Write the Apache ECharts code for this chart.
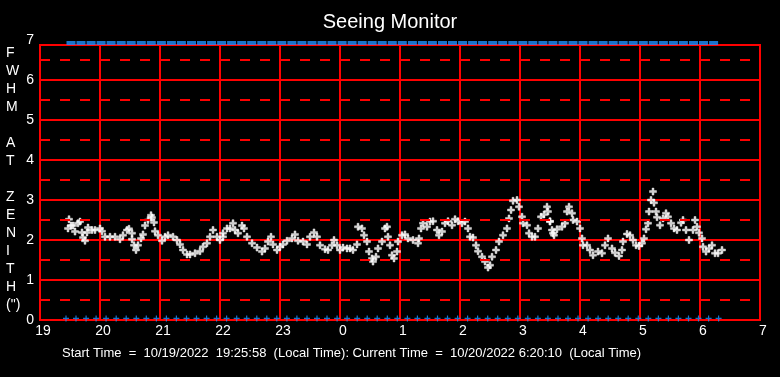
<!DOCTYPE html>
<html>
<head>
<meta charset="utf-8">
<script src="https://cdn.jsdelivr.net/npm/echarts@6/dist/echarts.min.js"></script>
<style>
html,body{margin:0;padding:0;background:#000;}
#chart{width:780px;height:377px;}
</style>
</head>
<body>
<div id="chart"></div>
<script>
// Tick labels (hours, local time) for x positions 0,60,...,720 minutes after 19:00
const hourLabels = ['19','20','21','22','23','0','1','2','3','4','5','6','7'];
const yTickValues = [0,1,2,3,4,5,6,7];
const halfLevels = [0.5,1.5,2.5,3.5,4.5,5.5,6.5];

// Seeing measurements: minutes after 19:00 and FWHM (arcsec)
const seeingMinutes = [
 28,29,31,33,35,38,40,42,43,45,47,48,52,55,60,62,65,70,75,80,83,87,89,92,92,94,96,98,
 101,103,105,108,111,112,114,115,118,122,125,128,133,137,140,143,147,150,155,160,163,167,
 170,173,177,180,183,183,187,190,193,195,198,202,204,207,212,217,222,225,228,231,233,237,
 240,243,247,252,255,258,263,267,270,274,277,280,285,288,292,294,297,300,303,307,310,313,
 317,318,322,324,327,329,332,333,336,338,342,345,347,348,350,352,354,357,358,362,365,368,
 373,378,379,381,383,387,390,393,397,399,402,405,408,412,415,418,422,425,428,430,433,436,
 438,442,445,448,450,452,456,459,463,467,469,471,473,477,479,482,483,487,489,492,495,498,
 501,504,507,508,510,512,514,510,513,517,522,525,527,529,532,533,537,540,542,543,547,550,
 553,558,562,565,568,572,575,579,582,583,587,590,593,596,599,602,604,606,608,609,611,613,
 614,616,617,620,623,626,628,631,634,637,641,643,646,649,653,655,657,659,662,663,666,669,
 672,675,678,682
];
const seeingFwhm = [
 2.29,2.52,2.36,2.36,2.21,2.42,2.46,2.19,2.06,1.98,2.19,2.31,2.25,2.25,2.29,2.22,2.08,2.08,2.08,2.02,2.12,2.25,2.28,2.17,2.02,1.87,1.75,1.87,
 2.04,2.14,2.36,2.50,2.62,2.56,2.44,2.22,2.12,1.98,2.08,2.12,2.08,2.00,1.89,1.75,1.64,1.64,1.67,1.72,1.83,1.92,
 2.08,2.25,2.08,2.00,2.08,2.17,2.29,2.29,2.42,2.25,2.17,2.36,2.29,2.08,1.92,1.81,1.71,1.79,1.96,2.08,1.89,1.75,
 1.83,1.89,1.98,2.04,2.14,1.98,1.96,1.89,2.08,2.19,2.08,1.87,1.77,1.75,1.87,2.00,1.87,1.75,1.81,1.79,1.79,1.75,
 1.89,2.33,2.29,2.12,1.96,1.71,1.54,1.46,1.58,1.79,1.96,2.29,2.33,2.08,1.87,1.62,1.54,1.71,1.96,2.12,2.14,2.04,
 2.00,1.92,2.04,2.29,2.42,2.33,2.46,2.47,2.25,2.12,2.21,2.42,2.47,2.37,2.52,2.47,2.42,2.46,2.29,2.08,2.06,1.87,
 1.72,1.58,1.46,1.31,1.37,1.58,1.75,1.96,2.12,2.29,2.54,2.75,2.98,3.00,2.83,2.58,2.42,2.37,2.17,2.08,2.08,2.29,
 2.58,2.64,2.83,2.71,2.47,2.25,2.12,2.46,2.17,2.27,2.33,2.42,2.71,2.83,2.67,2.50,2.46,2.29,2.04,1.87,1.87,1.75,
 1.62,1.71,1.67,1.87,2.04,1.79,1.68,1.60,1.75,1.96,2.15,2.12,2.00,1.87,1.85,1.92,2.04,2.27,2.42,2.71,3.00,3.21,
 2.93,2.71,2.57,2.37,2.54,2.67,2.58,2.42,2.29,2.25,2.43,2.50,2.25,2.00,2.25,2.50,2.33,2.18,2.04,1.83,1.71,1.79,
 1.87,1.67,1.67,1.75
];

// Status markers (minutes after 19:00)
const statusMinutes = [
 26.0,36.0,46.1,56.1,66.1,76.2,86.2,96.3,106.3,116.4,126.4,136.4,146.5,156.5,166.6,176.6,186.6,196.7,206.7,216.8,
 226.8,236.8,246.9,256.9,267.0,277.0,287.0,297.1,307.1,317.2,327.2,337.2,347.3,357.3,367.4,377.4,387.4,397.5,407.5,417.6,
 427.6,437.6,447.7,457.7,467.8,477.8,487.8,497.9,507.9,518.0,528.0,538.0,548.1,558.1,568.2,578.2,588.2,598.3,608.3,618.4,
 628.4,638.4,648.5,658.5,668.6,678.6
];
const bandMinutes = [
 31.0,41.0,51.1,61.1,71.1,81.2,91.2,101.3,111.3,121.4,131.4,141.4,151.5,161.5,171.6,181.6,191.6,201.7,211.7,221.8,
 231.8,241.8,251.9,261.9,272.0,282.0,292.0,302.1,312.1,322.2,332.2,342.2,352.3,362.3,372.4,382.4,392.4,402.5,412.5,422.6,
 432.6,442.6,452.7,462.7,472.8,482.8,492.8,502.9,512.9,523.0,533.0,543.0,553.1,563.1,573.2,583.2,593.2,603.3,613.3,623.4,
 633.4,643.4,653.5,663.5,673.6
];
const statusLow = 0.04;
const statusHigh = 6.925;

const titleText = 'Seeing Monitor';
const footerText = 'Start Time  =  10/19/2022  19:25:58  (Local Time): Current Time  =  10/20/2022 6:20:10  (Local Time)';
const yTitle = 'F\nW\nH\nM\n\nA\nT\n\nZ\nE\nN\nI\nT\nH\n(")';

const FONT = '"Liberation Sans", Arial, sans-serif';
const PLUS = 'path://M2.5,0H4.5V2.5H7V4.5H4.5V7H2.5V4.5H0V2.5H2.5Z';
const PLUS_THIN = 'path://M4,0H6V4H10V6H6V10H4V6H0V4H4Z';
const RED = '#ff0000';
const BLUE = '#1e90ff';

const chart = echarts.init(document.getElementById('chart'), null, {renderer:'canvas'});
chart.setOption({
  backgroundColor: '#000',
  animation: false,
  title: {
    text: titleText, left: 'center', top: 7,
    textStyle: {color:'#fff', fontSize:20, fontWeight:'normal', fontFamily:FONT}
  },
  grid: [
    {left:40, right:20, top:40, bottom:57, show:false},
    {left:40, right:20, top:45, bottom:57, show:true, borderColor:RED, borderWidth:2, backgroundColor:'transparent'}
  ],
  xAxis: [
    {gridIndex:0, type:'value', min:0, max:720, interval:60,
     axisLine:{show:false}, axisTick:{show:false}, splitLine:{show:false},
     axisLabel:{color:'#fff', fontSize:14, fontFamily:FONT, margin:4, padding:[0,0,0,6],
       formatter: v => hourLabels[Math.round(v/60)]}},
    {gridIndex:1, type:'value', min:0, max:720, interval:60,
     axisLine:{show:false}, axisTick:{show:false}, axisLabel:{show:false},
     splitLine:{show:true, lineStyle:{color:RED, width:2}}}
  ],
  yAxis: [
    {gridIndex:0, type:'value', min:0, max:7, interval:1,
     axisLine:{show:false}, axisTick:{show:false}, splitLine:{show:false},
     axisLabel:{color:'#fff', fontSize:14, fontFamily:FONT, margin:6,
       formatter: v => String(yTickValues[Math.round(v)])}},
    {gridIndex:1, type:'value', min:0, max:6.875, interval:1,
     axisLine:{show:false}, axisTick:{show:false}, axisLabel:{show:false},
     splitLine:{show:true, lineStyle:{color:RED, width:2}}}
  ],
  series: [
    {
      type:'line', xAxisIndex:0, yAxisIndex:0, data:[], z:1, silent:true,
      markLine:{
        silent:true, symbol:'none', animation:false,
        label:{show:false},
        lineStyle:{color:RED, width:2, type:[10,10]},
        data: halfLevels.map(v => ({yAxis:v}))
      }
    },
    {
      name:'seeing', type:'scatter', xAxisIndex:0, yAxisIndex:0, z:3,
      symbol:PLUS, symbolSize:7,
      itemStyle:{color:'#fff', borderColor:'#fff', borderWidth:0.5},
      data: seeingMinutes.map((m,i) => [m, seeingFwhm[i]])
    },
    {
      name:'statusLow', type:'scatter', xAxisIndex:0, yAxisIndex:0, z:3, clip:false,
      symbol:PLUS_THIN, symbolSize:6,
      itemStyle:{color:BLUE},
      data: statusMinutes.map(m => [m, statusLow])
    },
    {
      name:'statusHigh', type:'scatter', xAxisIndex:0, yAxisIndex:0, z:3, clip:false,
      symbol:'rect', symbolSize:[9,4],
      itemStyle:{color:BLUE},
      data: bandMinutes.map(m => [m, statusHigh])
    }
  ],
  graphic: [
    {type:'text', left:6, top:44,
     style:{text:yTitle, fill:'#fff', font:'14px ' + FONT, lineHeight:18, align:'center', width:14}},
    {type:'text', left:62, top:347,
     style:{text:footerText, fill:'#fff', font:'13px ' + FONT}}
  ]
});
</script>
</body>
</html>
